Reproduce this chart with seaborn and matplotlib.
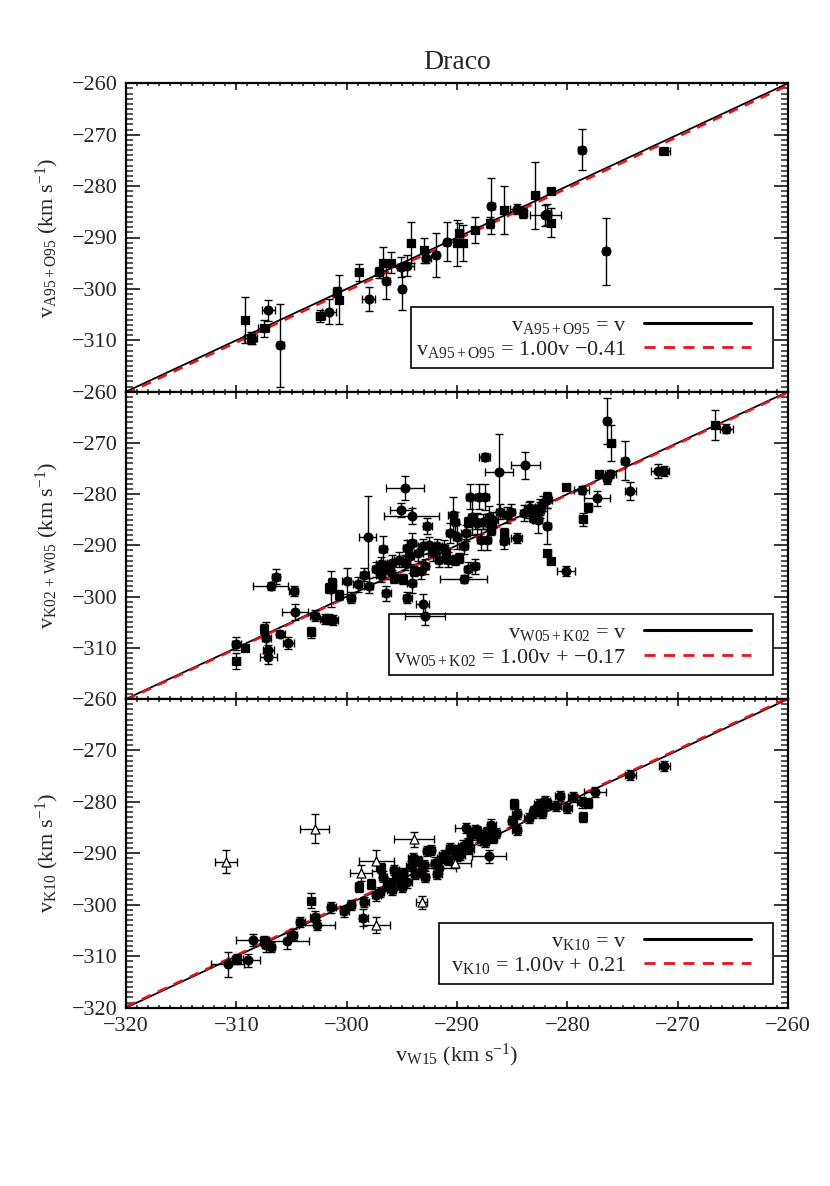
import numpy as np
import pandas as pd
import matplotlib
matplotlib.use("Agg")
import matplotlib.pyplot as plt
from matplotlib.ticker import MultipleLocator
from matplotlib.patches import Rectangle
import seaborn as sns

# ---------------- data ----------------
# Top panel: v_A95+O95 vs v_W15  (c = circle, s = square)
top_x = [-309.2, -308.7, -308.6, -307.5, -307.1, -306.0, -302.4, -301.6, -300.9, -300.7,
         -298.9, -298.0, -297.1, -296.7, -296.4, -296.0, -295.1, -295.0, -294.5, -294.2,
         -293.0, -292.8, -291.9, -290.9, -290.0, -289.8, -289.5, -288.4, -287.0, -286.9,
         -285.7, -284.6, -284.0, -282.9, -282.0, -281.8, -281.5, -281.5, -278.7, -276.5,
         -271.2]
top_y = [-306.0, -309.5, -309.8, -307.7, -304.2, -311.0, -305.3, -304.4, -300.6, -302.1,
         -296.8, -302.0, -296.8, -294.9, -298.4, -294.9, -295.7, -300.1, -295.5, -291.0,
         -292.5, -293.9, -293.4, -290.8, -291.0, -289.2, -291.0, -288.6, -287.1, -283.9,
         -284.7, -284.5, -285.2, -281.8, -285.7, -285.5, -287.1, -280.9, -272.9, -292.7,
         -273.2]
top_xerr = [0.3, 0.6, 0.3, 0.5, 0.6, 0.3, 0.4, 0.6, 0.3, 0.3,
            0.3, 0.6, 0.3, 0.3, 0.3, 0.3, 0.3, 0.3, 0.6, 0.3,
            0.3, 0.4, 0.3, 0.3, 0.3, 0.3, 0.3, 0.3, 0.3, 0.3,
            0.3, 0.6, 0.3, 0.3, 1.4, 0.3, 0.3, 0.3, 0.3, 0.3,
            0.5]
top_yerr = [4.5, 1.2, 1.0, 1.6, 2.0, 8.0, 1.2, 2.5, 1.0, 4.8,
            1.7, 2.3, 1.0, 3.0, 3.5, 2.0, 2.0, 4.0, 2.0, 4.0,
            2.4, 1.0, 4.3, 3.8, 4.5, 2.0, 3.5, 2.5, 1.0, 5.5,
            4.7, 1.0, 1.0, 6.5, 2.0, 2.0, 2.8, 0.5, 4.0, 6.5,
            0.6]
top_mark = ["s", "s", "c", "s", "c", "c", "s", "c", "s", "s",
            "s", "c", "s", "s", "c", "s", "c", "c", "c", "s",
            "s", "c", "c", "c", "s", "s", "s", "s", "s", "c",
            "s", "c", "s", "s", "c", "c", "s", "s", "c", "c",
            "s"]

# Middle panel: v_K02+W05 vs v_W15
mid_x = [-276.4, -276.0, -274.8, -266.6, -265.6, -271.8, -271.2, -274.3, -277.3, -278.1,
         -278.6, -277.1, -276.1, -276.4, -280.1, -278.7, -280.1, -281.8, -281.5, -281.8,
         -281.8, -283.8, -287.5, -286.2, -294.7, -295.1, -294.1, -298.1, -296.7, -292.7,
         -293.1, -292.9, -294.5, -294.1, -296.4, -306.9, -306.4, -304.8, -304.7, -305.3,
         -306.0, -307.5, -307.3, -307.1, -307.1, -310.0, -310.0, -309.2, -303.2, -302.9,
         -301.6, -301.2, -301.3, -301.4, -300.0, -300.7, -299.6, -299.0, -298.4, -298.0,
         -297.3, -296.9, -296.4, -296.1, -295.3, -294.9, -294.5, -294.1, -293.5, -293.3,
         -292.9, -292.5, -292.2, -291.6, -291.0, -290.6, -290.4, -290.2, -290.0, -289.8,
         -289.4, -289.0, -288.8, -288.6, -288.4, -288.2, -288.0, -287.8, -287.5, -287.3,
         -287.1, -286.9, -286.7, -285.7, -285.7, -285.5, -285.1, -284.6, -283.9, -283.4,
         -282.9, -282.7, -282.5, -282.2, -289.4, -296.9, -295.9, -295.7, -294.7, -294.3,
         -293.9, -293.1, -291.8, -291.2, -290.8, -290.2, -289.2, -289.0, -288.4, -287.6,
         -286.9, -286.1, -283.5, -283.1, -282.5, -281.8, -301.6, -302.0]
mid_y = [-265.7, -270.0, -273.5, -266.5, -267.2, -275.5, -275.5, -279.4, -280.8, -282.6,
         -284.9, -276.0, -276.0, -277.0, -278.7, -279.2, -295.0, -291.4, -293.1, -286.2,
         -280.5, -274.4, -272.8, -275.7, -278.8, -283.1, -284.3, -288.3, -290.7, -286.2,
         -301.5, -303.7, -300.2, -297.4, -299.4, -297.9, -296.1, -298.9, -303.0, -309.0,
         -307.4, -306.4, -308.0, -310.4, -311.8, -309.2, -312.6, -310.1, -307.0, -303.7,
         -304.4, -304.6, -297.3, -298.5, -297.0, -299.7, -300.2, -297.6, -295.7, -297.9,
         -294.7, -293.7, -294.1, -295.0, -292.8, -296.6, -290.5, -289.5, -291.5, -295.0,
         -294.1, -289.9, -291.5, -292.8, -291.5, -287.6, -284.1, -285.4, -288.3, -292.5,
         -290.2, -294.7, -280.5, -284.4, -294.1, -285.7, -280.5, -288.9, -280.6, -288.9,
         -284.4, -285.7, -285.0, -287.6, -289.2, -284.1, -283.4, -288.6, -283.7, -282.8,
         -284.1, -285.0, -283.1, -281.8, -296.6, -295.7, -293.4, -296.3, -293.4, -292.1,
         -295.0, -290.2, -290.2, -290.5, -292.8, -292.8, -287.6, -285.4, -285.4, -285.4,
         -287.0, -283.4, -283.1, -284.4, -282.5, -281.2, -298.3, -304.4]
mid_xerr = [0.3, 0.3, 0.3, 0.3, 0.6, 0.6, 0.4, 0.5, 1.2, 0.3,
            0.3, 0.3, 0.5, 0.3, 0.3, 0.7, 0.8, 0.3, 0.3, 0.3,
            0.3, 1.3, 0.5, 1.3, 1.7, 1.0, 2.5, 0.8, 0.4, 0.4,
            0.6, 1.8, 0.4, 0.4, 0.4, 1.6, 0.4, 0.4, 1.2, 0.5,
            0.4, 0.3, 0.4, 0.5, 0.8, 0.4, 0.3, 0.3, 0.3, 0.4,
            0.4, 0.4, 0.3, 0.4, 0.4, 0.3, 0.4, 0.4, 0.4, 0.4,
            0.4, 0.4, 0.3, 0.4, 0.4, 0.3, 0.4, 0.4, 0.4, 0.4,
            0.4, 0.4, 0.4, 0.4, 0.3, 0.4, 0.4, 0.4, 0.4, 0.3,
            0.4, 0.4, 0.4, 0.4, 0.4, 0.4, 0.4, 0.4, 0.4, 0.4,
            0.4, 0.4, 0.4, 0.3, 0.4, 0.4, 0.4, 0.5, 0.4, 0.4,
            0.4, 0.4, 0.4, 0.4, 2.1, 0.4, 0.4, 0.3, 0.4, 0.4,
            0.3, 0.4, 0.4, 0.4, 0.4, 0.3, 0.4, 0.3, 0.4, 0.4,
            0.3, 0.4, 0.4, 0.3, 0.4, 0.4, 0.3, 0.4]
mid_yerr = [4.5, 3.5, 3.8, 2.9, 0.8, 1.3, 1.0, 1.8, 1.5, 0.8,
            1.3, 0.6, 0.8, 1.0, 0.5, 0.7, 0.9, 0.5, 0.5, 3.5,
            1.0, 2.6, 0.8, 7.5, 2.3, 1.4, 1.5, 8.0, 2.5, 1.5,
            2.0, 1.8, 1.0, 2.0, 1.5, 0.8, 1.4, 1.0, 1.5, 1.2,
            0.5, 1.0, 3.0, 1.0, 1.3, 1.3, 1.5, 0.5, 1.0, 1.0,
            1.0, 1.0, 1.0, 3.5, 2.5, 1.0, 1.0, 1.5, 1.2, 1.5,
            1.5, 1.5, 1.0, 1.5, 1.5, 1.0, 1.5, 2.0, 1.5, 1.5,
            1.5, 1.5, 1.5, 1.5, 1.0, 2.0, 3.5, 2.0, 2.5, 1.0,
            1.5, 1.5, 2.5, 3.5, 1.5, 2.0, 2.5, 2.0, 2.5, 2.0,
            2.0, 1.5, 1.5, 1.0, 1.5, 1.5, 1.5, 1.0, 1.5, 1.5,
            1.5, 2.5, 1.5, 1.5, 0.8, 1.5, 1.5, 1.0, 1.5, 1.5,
            1.0, 1.5, 1.5, 1.5, 1.5, 1.0, 1.5, 1.0, 1.5, 1.5,
            1.0, 1.5, 1.5, 1.0, 1.5, 1.5, 1.0, 1.0]
mid_mark = ["c", "s", "c", "s", "c", "c", "c", "c", "c", "s",
            "s", "s", "c", "c", "s", "c", "c", "s", "s", "c",
            "s", "c", "c", "c", "c", "c", "c", "c", "c", "c",
            "c", "c", "c", "c", "c", "c", "c", "c", "c", "c",
            "c", "s", "c", "c", "c", "c", "s", "s", "s", "c",
            "c", "c", "s", "c", "c", "s", "c", "c", "c", "c",
            "c", "c", "s", "c", "c", "s", "c", "c", "c", "c",
            "c", "c", "c", "c", "s", "c", "c", "c", "c", "s",
            "c", "c", "c", "c", "c", "c", "c", "c", "c", "c",
            "c", "c", "c", "s", "c", "c", "c", "c", "c", "c",
            "c", "c", "c", "c", "c", "c", "c", "s", "c", "c",
            "s", "c", "c", "c", "c", "s", "c", "s", "c", "c",
            "s", "c", "c", "s", "c", "c", "s", "c"]

# Bottom panel: v_K10 vs v_W15 (t = open triangle)
bot_x = [-310.8, -309.9, -308.9, -308.5, -307.5, -307.3, -306.9, -305.4, -304.9, -304.2,
         -303.2, -302.9, -302.7, -301.4, -300.2, -299.6, -298.9, -298.5, -298.4, -297.3,
         -296.9, -296.7, -296.3, -295.9, -295.7, -295.3, -294.9, -294.5, -294.0, -293.3,
         -292.9, -292.7, -292.4, -291.6, -291.4, -291.2, -290.6, -290.2, -289.7, -289.2,
         -289.0, -288.7, -288.4, -288.2, -287.8, -287.5, -287.1, -286.9, -286.7, -284.8,
         -284.6, -284.6, -283.5, -283.1, -282.7, -282.6, -282.0, -281.8, -280.7, -280.0,
         -278.7, -278.6, -278.1, -277.5, -274.3, -271.2,
         -297.8, -297.0, -296.0, -295.5, -295.0, -294.2, -293.8, -293.5, -293.0, -292.0,
         -291.8, -290.8, -290.0, -289.5, -288.9, -288.0, -287.3, -286.5, -285.0, -283.0,
         -282.3, -281.0, -279.5,
         -310.9, -302.9, -293.9, -297.3, -298.7, -293.2, -297.3, -290.2]
bot_y = [-311.6, -310.6, -310.8, -306.8, -307.1, -307.9, -308.2, -307.0, -305.8, -303.4,
         -299.2, -302.3, -303.9, -300.5, -301.3, -300.0, -296.6, -302.5, -299.4, -298.1,
         -292.9, -294.5, -296.4, -297.1, -293.2, -295.1, -293.8, -295.5, -290.9, -293.5,
         -294.5, -289.6, -289.3, -292.9, -290.9, -290.3, -289.0, -289.3, -290.3, -285.1,
         -288.0, -286.4, -285.4, -285.7, -287.3, -287.7, -290.6, -284.4, -287.0, -280.4,
         -282.3, -285.4, -283.1, -282.1, -281.2, -280.5, -279.9, -280.5, -278.8, -281.2,
         -280.1, -282.9, -280.2, -278.1, -274.8, -273.0,
         -296.0, -297.5, -295.8, -294.2, -296.5, -292.5, -294.0, -291.5, -292.2, -291.8,
         -294.0, -291.2, -290.5, -288.5, -289.2, -286.5, -285.8, -286.0, -283.8, -281.8,
         -282.2, -280.8, -279.0,
         -291.6, -285.2, -287.3, -291.4, -293.8, -299.5, -303.9, -291.8]
bot_xerr = [1.5, 0.5, 1.0, 1.5, 0.4, 0.4, 0.4, 2.0, 0.4, 0.4,
            0.3, 0.4, 1.6, 0.4, 0.4, 0.4, 0.3, 0.4, 0.4, 0.4,
            0.3, 0.4, 0.4, 0.4, 0.4, 0.4, 0.4, 0.4, 0.4, 0.4,
            0.4, 0.4, 0.4, 1.5, 0.4, 0.4, 0.4, 0.4, 0.4, 1.0,
            0.4, 0.4, 0.4, 0.3, 0.4, 0.4, 1.5, 0.4, 0.3, 0.3,
            0.4, 0.4, 0.4, 0.4, 0.4, 0.4, 0.4, 0.3, 0.4, 0.4,
            0.4, 0.3, 0.3, 1.0, 0.5, 0.5,
            0.3, 0.4, 0.4, 0.3, 0.4, 0.4, 0.4, 0.3, 0.4, 0.4,
            0.4, 0.3, 0.4, 0.4, 0.4, 0.4, 0.3, 0.4, 0.4, 0.3,
            0.4, 0.4, 0.4,
            1.0, 1.3, 1.8, 1.6, 1.0, 0.5, 1.2, 1.5]
bot_yerr = [2.5, 1.0, 1.3, 1.2, 1.0, 1.2, 1.0, 1.6, 1.0, 1.0,
            1.5, 1.0, 1.0, 1.0, 1.0, 1.0, 1.0, 1.6, 1.0, 1.2,
            1.0, 1.0, 1.0, 1.0, 1.0, 1.0, 1.0, 1.2, 1.0, 1.0,
            1.0, 1.0, 1.0, 1.0, 1.0, 1.0, 1.0, 1.0, 1.0, 1.0,
            1.0, 1.0, 1.0, 1.0, 1.0, 1.0, 1.2, 1.0, 1.0, 1.0,
            1.0, 1.0, 1.0, 1.0, 1.0, 1.0, 1.0, 1.0, 1.0, 1.0,
            1.0, 1.0, 1.0, 1.0, 1.0, 1.0,
            1.0, 1.0, 1.0, 1.0, 1.0, 1.0, 1.0, 1.0, 1.0, 1.0,
            1.0, 1.0, 1.0, 1.0, 1.0, 1.0, 1.0, 1.0, 1.0, 1.0,
            1.0, 1.0, 1.0,
            2.2, 2.8, 1.5, 2.0, 1.5, 1.3, 1.6, 1.0]
bot_mark = ["c", "s", "c", "c", "s", "c", "c", "c", "c", "c",
            "s", "c", "c", "c", "c", "c", "s", "c", "c", "c",
            "s", "c", "c", "c", "c", "c", "c", "c", "c", "c",
            "c", "c", "c", "c", "c", "c", "c", "c", "c", "c",
            "c", "c", "c", "s", "c", "c", "c", "c", "s", "s",
            "c", "c", "c", "c", "c", "c", "c", "s", "c", "c",
            "c", "s", "s", "c", "c", "c",
            "s", "c", "c", "s", "c", "c", "c", "s", "c", "c",
            "c", "s", "c", "c", "c", "c", "s", "c", "c", "s",
            "c", "c", "c",
            "t", "t", "t", "t", "t", "t", "t", "t"]

ylabels = [r"$\mathrm{v_{A95+O95}}$ (km s$^{-1}$)",
           r"$\mathrm{v_{K02\,+\,W05}}$ (km s$^{-1}$)",
           r"$\mathrm{v_{K10}}$ (km s$^{-1}$)"]
legend_names = ["A95+O95", "W05+K02", "K10"]
fit_slope = [1.00, 1.00, 1.00]
fit_offset = [-0.41, -0.17, 0.21]
fit_text = ["1.00v \u22120.41", "1.00v + \u22120.17", "1.00v + 0.21"]
axis_range = [-320, -260]
title = "Draco"
xlabel = r"$\mathrm{v_{W15}}$ (km s$^{-1}$)"

# ---------------- style ----------------
sns.set_style("white")
plt.rcParams["font.family"] = ["Liberation Serif", "DejaVu Serif"]
plt.rcParams["mathtext.fontset"] = "custom"
plt.rcParams["mathtext.rm"] = "Liberation Serif"
plt.rcParams["mathtext.it"] = "Liberation Serif:italic"
plt.rcParams["axes.unicode_minus"] = True
FS = 16

fig = plt.figure(figsize=(8.3, 11.86), dpi=100)
W, H = 830.0, 1186.0
left, right = 126 / W, 788 / W
bounds = [(83.3, 391.7), (391.7, 699.0), (699.0, 1007.7)]
# legend box left edge (pixels) per panel; right edge, top/bottom offsets are shared
box_left_px = [411, 389, 439]

panels = [
    (top_x, top_y, top_xerr, top_yerr, top_mark),
    (mid_x, mid_y, mid_xerr, mid_yerr, mid_mark),
    (bot_x, bot_y, bot_xerr, bot_yerr, bot_mark),
]

axes = []
for i, (t, b) in enumerate(bounds):
    ax = fig.add_axes([left, 1 - b / H, right - left, (b - t) / H])
    axes.append(ax)
    hpx = b - t
    wpx = 788 - 126
    xs, ys, exs, eys, mks = panels[i]
    df = pd.DataFrame({"x": xs, "y": ys, "ex": exs, "ey": eys, "m": mks})

    ax.errorbar(df["x"], df["y"], xerr=df["ex"], yerr=df["ey"], fmt="none",
                ecolor="black", elinewidth=1.0, capsize=2.8, capthick=1.0, zorder=6)
    for m, style in [("c", dict(marker="o", s=40, color="black", edgecolor="black")),
                     ("s", dict(marker="s", s=30, color="black", edgecolor="black")),
                     ("t", dict(marker="^", s=42, facecolor="white", edgecolor="black"))]:
        sub = df[df["m"] == m]
        if len(sub):
            sns.scatterplot(data=sub, x="x", y="y", ax=ax, linewidth=0.9,
                            zorder=7, legend=False, **style)

    line_df = pd.DataFrame({"x": axis_range, "y": axis_range})
    fit_df = pd.DataFrame({"x": axis_range,
                           "y": [fit_slope[i] * v + fit_offset[i] for v in axis_range]})
    name = legend_names[i]
    sns.lineplot(data=line_df, x="x", y="y", ax=ax, color="black", lw=1.3, zorder=4,
                 label=r"$\mathrm{v_{%s}}$ = v" % name)
    sns.lineplot(data=fit_df, x="x", y="y", ax=ax, color="#e8141c", lw=1.8, zorder=5,
                 linestyle=(0, (4, 3)),
                 label=r"$\mathrm{v_{%s}}$ = %s" % (name, fit_text[i]))

    ax.set_xlim(axis_range)
    ax.set_ylim(axis_range)
    ax.xaxis.set_major_locator(MultipleLocator(10))
    ax.xaxis.set_minor_locator(MultipleLocator(1))
    ax.yaxis.set_major_locator(MultipleLocator(10))
    ax.yaxis.set_minor_locator(MultipleLocator(1))
    ax.tick_params(axis="x", which="major", direction="in", length=5, width=1.3,
                   top=True, bottom=True, labelsize=FS, pad=7)
    ax.tick_params(axis="x", which="minor", direction="in", length=2.5, width=1.1,
                   top=True, bottom=True)
    ax.tick_params(axis="y", which="major", direction="in", length=10, width=1.3,
                   left=True, right=True, labelsize=FS, pad=6)
    ax.tick_params(axis="y", which="minor", direction="in", length=5, width=1.1,
                   left=True, right=True)
    for sp in ax.spines.values():
        sp.set_linewidth(1.6)
        sp.set_color("black")
        sp.set_zorder(10)
    ax.set_ylabel(ylabels[i], fontsize=FS, labelpad=8)
    if i < 2:
        ax.tick_params(axis="x", labelbottom=False)
        ax.set_xlabel("")
        ax.set_yticks([-310, -300, -290, -280, -270, -260])
    else:
        ax.set_xlabel(xlabel, fontsize=FS, labelpad=4)

    # legend frame drawn as a separate box so the inner padding matches
    bx0 = (box_left_px[i] - 126) / wpx
    bx1 = (773 - 126) / wpx
    by0 = 23.7 / hpx
    by1 = 84.7 / hpx
    ax.add_patch(Rectangle((bx0, by0), bx1 - bx0, by1 - by0, transform=ax.transAxes,
                           facecolor="white", edgecolor="black", lw=1.2, zorder=3))
    leg = ax.legend(loc="lower right", bbox_to_anchor=((751 - 126) / wpx, 31.5 / hpx),
                    borderaxespad=0, borderpad=0, markerfirst=False, frameon=False,
                    fontsize=FS, handlelength=4.8, handletextpad=0.8, labelspacing=0.15)
    for ln in leg.get_lines():
        ln.set_linewidth(2.2 if ln.get_color() == "black" else 2.0)
    leg.set_zorder(3.5)

axes[0].set_title(title, fontsize=20, pad=10)

fig.savefig("out.png", dpi=100)
